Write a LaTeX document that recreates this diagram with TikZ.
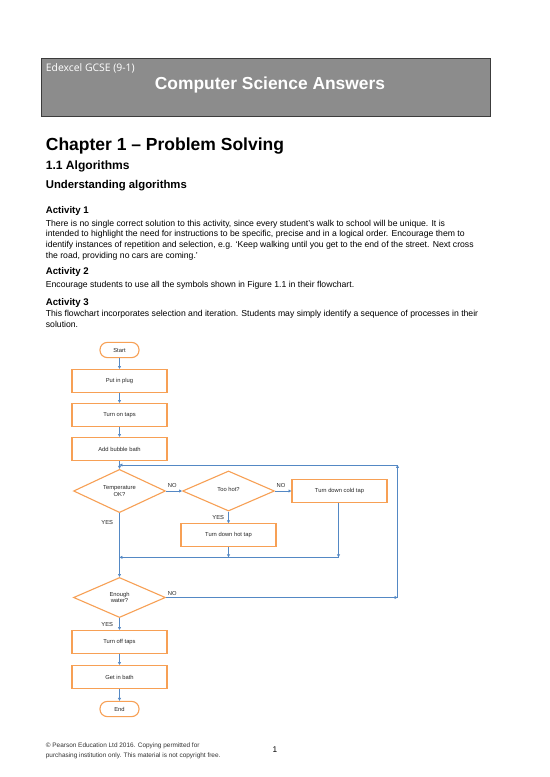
\documentclass[tikz,border=0pt]{standalone}
\usepackage{fontspec}
\setmainfont{Liberation Sans}
\newfontfamily\bannerfont{Open Sans}
\usepackage{xcolor}
\usetikzlibrary{arrows.meta,shapes.geometric}

\definecolor{boxorange}{RGB}{247,160,85}
\definecolor{linkblue}{RGB}{84,136,196}
\definecolor{bannergray}{RGB}{140,140,140}
\definecolor{bannerline}{RGB}{60,60,60}

\begin{document}
\begin{tikzpicture}[
  x=0.03818cm, y=-0.03818cm,
  font=\fontsize{6.3}{7.2}\selectfont,
  terminal/.style={draw=boxorange, line width=1.2pt, rounded corners=0.28cm, minimum width=1.49cm, minimum height=0.58cm, inner sep=0pt, text=black!85},
  process/.style={draw=boxorange, line width=1.2pt, minimum width=3.63cm, minimum height=0.88cm, inner sep=0pt, text=black!85},
  decision/.style={diamond, draw=boxorange, line width=1.2pt, minimum width=3.51cm, minimum height=1.53cm, inner sep=0pt, align=center, text=black!85},
  flow/.style={draw=linkblue, line width=0.7pt, -{Triangle[length=1.1mm,width=1.1mm]}},
  lab/.style={inner sep=0pt, text=black!85},
  para/.style={anchor=north west, inner sep=0pt, align=left, font=\fontsize{9.4}{11.69}\selectfont},
  head/.style={anchor=base west, inner sep=0pt}
]
\useasboundingbox[fill=white] (0,0) rectangle (550,777);

\node[fill=bannergray, draw=bannerline, line width=0.8pt, minimum width=17.14cm, minimum height=2.21cm, inner sep=0pt] (banner) at (265.5,87) {};
\node[head, text=white, font=\bannerfont\fontsize{11.3}{13}\selectfont] (board) at (45.7,71.3) {Edexcel GCSE (9-1)};
\node[anchor=base, inner sep=0pt, text=white, font=\fontsize{18.9}{22}\selectfont\bfseries] (subject) at (270,89.3) {Computer Science Answers};

\node[head, font=\fontsize{19}{22}\selectfont\bfseries] (chapter) at (45.7,150.7) {Chapter 1 – Problem Solving};
\node[head, font=\fontsize{13.1}{16}\selectfont\bfseries] (section) at (45.7,169) {1.1 Algorithms};
\node[head, font=\fontsize{12.3}{15}\selectfont\bfseries] (topic) at (45.7,188.3) {Understanding algorithms};

\node[head, font=\fontsize{10.5}{13}\selectfont\bfseries] (act1) at (45.7,213.3) {Activity 1};
\node[para] (text1) at (45.7,218.4) {\strut There is no single correct solution to this activity, since every student’s walk to school will be unique. It is\\
intended to highlight the need for instructions to be specific, precise and in a logical order. Encourage them to\\
identify instances of repetition and selection, e.g. ‘Keep walking until you get to the end of the street. Next cross\\
the road, providing no cars are coming.’};
\node[head, font=\fontsize{10.5}{13}\selectfont\bfseries] (act2) at (45.7,274) {Activity 2};
\node[para] (text2) at (45.7,280.1) {\strut Encourage students to use all the symbols shown in Figure 1.1 in their flowchart.};
\node[head, font=\fontsize{10.5}{13}\selectfont\bfseries] (act3) at (45.7,305) {Activity 3};
\node[para] (text3) at (45.7,309.1) {\strut This flowchart incorporates selection and iteration. Students may simply identify a sequence of processes in their\\
solution.};

\node[terminal] (start) at (119.5,350) {Start};
\node[process] (plug) at (119.5,381) {Put in plug};
\node[process] (taps) at (119.5,415) {Turn on taps};
\node[process] (bubble) at (119.5,449) {Add bubble bath};
\node[decision] (tempok) at (119.5,491) {Temperature\\OK?};
\node[decision] (toohot) at (228.5,491) {\raisebox{0.12cm}{Too hot?}};
\node[process] (cold) at (339.5,491) {Turn down cold tap};
\node[process] (hot) at (228.5,535.3) {Turn down hot tap};
\node[decision] (water) at (119.5,597.5) {Enough\\water?};
\node[process] (off) at (119.5,642) {Turn off taps};
\node[process] (bath) at (119.5,677) {Get in bath};
\node[terminal] (end) at (119.5,709) {End};

\coordinate (loopR) at (397.5,465);
\coordinate (loopL) at (bubble.south |- loopR);
\coordinate (loopB) at (loopR |- water.east);
\coordinate (mergeR) at (338.5,557.3);
\coordinate (mergeM) at (hot.south |- mergeR);
\coordinate (mergeL) at (tempok.south |- mergeR);

\draw[flow] (start) -- (plug);
\draw[flow] (plug) -- (taps);
\draw[flow] (taps) -- (bubble);
\draw[flow] (bubble) -- (tempok);
\draw[flow] (tempok.east) -- (toohot.west);
\draw[flow] (toohot.east) -- (cold.west);
\draw[flow] (toohot.south) -- (hot.north);
\draw[flow] (hot.south) -- (mergeM);
\draw[flow] (cold.south -| mergeR) -- (mergeR);
\draw[flow] (mergeR) -- (mergeL);
\draw[flow] (tempok.south) -- (water.north);
\draw[flow] (water.east) -- (loopB);
\draw[flow] (loopB) -- (loopR);
\draw[flow] (loopR) -- (loopL);
\draw[flow] (water) -- (off);
\draw[flow] (off) -- (bath);
\draw[flow] (bath) -- (end);

\node[lab] (noTemp) at (172.3,485.5) {NO};
\node[lab] (noHot) at (281,485.5) {NO};
\node[lab] (yesHot) at (218.3,517.3) {YES};
\node[lab] (yesTemp) at (107.3,522.7) {YES};
\node[lab] (noWater) at (172.3,593.3) {NO};
\node[lab] (yesWater) at (107.3,624) {YES};

\node[para, font=\fontsize{7}{11.26}\selectfont, text=black!80] (credit) at (45.7,740) {\strut © Pearson Education Ltd 2016. Copying permitted for\\
purchasing institution only. This material is not copyright free.};
\node[anchor=base, inner sep=0pt, font=\fontsize{9}{11}\selectfont] (page) at (275,752) {1};
\end{tikzpicture}
\end{document}
